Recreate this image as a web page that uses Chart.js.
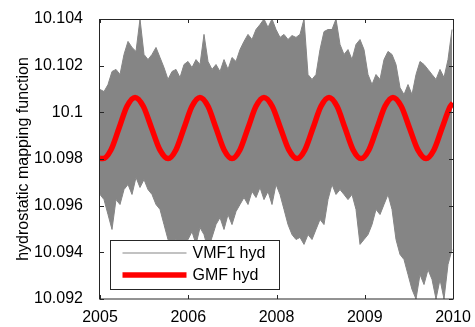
<!DOCTYPE html>
<html>
<head>
<meta charset="utf-8">
<script src="https://cdn.jsdelivr.net/npm/chart.js@4"></script>
<style>
html,body{margin:0;padding:0;background:#fff;}
canvas{display:block;}
</style>
</head>
<body>
<canvas id="c" width="475" height="327"></canvas>
<script>
// ---- data ----
const xTickValues = [0, 1, 2, 3, 4];
const xTickLabels = ['2005', '2006', '2008', '2009', '2010'];
const yTickValues = [10.092, 10.094, 10.096, 10.098, 10.1, 10.102, 10.104];
const yTickLabels = ['10.092', '10.094', '10.096', '10.098', '10.1', '10.102', '10.104'];

// VMF1 hyd: upper and lower extremes of the noisy series, sampled evenly along the time axis
const vmfUpper = [10.10098,10.10089,10.10119,10.10175,10.10184,10.10162,10.10248,10.10304,10.10278,10.10261,
  10.1040,10.10248,10.10226,10.10248,10.10278,10.10235,10.10192,10.10141,10.10175,10.10184,
  10.10149,10.10205,10.10218,10.10192,10.10226,10.10205,10.10334,10.10218,10.10184,10.10205,
  10.10175,10.10226,10.10184,10.10235,10.10218,10.10269,10.10304,10.10334,10.10312,10.10355,
  10.10376,10.1040,10.10364,10.1040,10.10355,10.10321,10.10334,10.10312,10.10329,10.10321,
  10.10334,10.1040,10.10162,10.10141,10.10162,10.10269,10.10346,10.10355,10.10355,10.1040,
  10.10291,10.10248,10.10269,10.10226,10.10291,10.10312,10.10269,10.10162,10.10119,10.10162,
  10.10141,10.10226,10.10261,10.10248,10.10205,10.10106,10.10076,10.10119,10.10076,10.10162,
  10.10218,10.10205,10.10184,10.10162,10.10141,10.10184,10.10149,10.10226,10.10355];
const vmfLower = [10.09648,10.09626,10.09562,10.09498,10.09626,10.09605,10.09669,10.09691,10.09648,10.09721,
  10.09678,10.09712,10.09669,10.09648,10.09605,10.09584,10.09519,10.09455,10.09434,10.09455,
  10.09412,10.09434,10.09455,10.09489,10.09434,10.09506,10.09476,10.09412,10.09464,10.09519,
  10.09549,10.09498,10.09562,10.09519,10.09575,10.09605,10.09635,10.09605,10.09661,10.09635,
  10.09678,10.09626,10.09661,10.09605,10.09691,10.09648,10.09584,10.09519,10.09476,10.09455,
  10.09464,10.09434,10.09476,10.09455,10.09498,10.09541,10.09519,10.09626,10.09691,10.09648,
  10.09669,10.09648,10.09626,10.09648,10.09584,10.09434,10.09455,10.09476,10.09519,10.09584,
  10.09562,10.09605,10.09648,10.09584,10.09455,10.09391,10.09369,10.09305,10.09241,10.0920,
  10.09305,10.09262,10.09326,10.09284,10.0920,10.09284,10.0920,10.09348,10.09412];
const vmfSpan = 88.25; // samples across the 4 axis units

// GMF hyd: points (troughs, peaks and between)
const gmfT = [0,0.034,0.125,0.216,0.306,0.397,0.4905,0.584,0.6775,0.771,0.8615,0.952,1.0425,1.133,
  1.224,1.3145,1.405,1.496,1.5865,1.677,1.7675,1.858,1.9515,2.045,2.1385,2.232,2.323,2.4135,2.504,2.595,
  2.686,2.7765,2.867,2.958,3.0485,3.139,3.2295,3.320,3.4135,3.507,3.6005,3.694,3.785,3.876,3.967,4.0];
const gmfV = [10.09803,10.09802,
  10.09840,10.09933,10.10026,10.10064, 10.10026,10.09933,10.09840,10.09802,
  10.09840,10.09933,10.10026,10.10064, 10.10026,10.09933,10.09840,10.09802,
  10.09840,10.09933,10.10026,10.10064, 10.10026,10.09933,10.09840,10.09802,
  10.09840,10.09933,10.10026,10.10064, 10.10026,10.09933,10.09840,10.09802,
  10.09840,10.09933,10.10026,10.10064, 10.10026,10.09933,10.09840,10.09802,
  10.09840,10.09933,10.10024,10.1004];

// ---- build datasets ----
const vmfUpperPts = vmfUpper.map((v, i) => ({x: i * 4 / vmfSpan, y: v}));
const vmfLowerPts = vmfLower.map((v, i) => ({x: i * 4 / vmfSpan, y: v}));
const gmfPoints = gmfT.map((t, i) => ({x: t, y: gmfV[i]}));

const FONT = "'Liberation Sans', Arial, sans-serif";
const AXIS_COLOR = '#262626';
const GRAY = '#858585';

const boxPlugin = {
  id: 'matlabBox',
  afterDraw(chart) {
    const {ctx, chartArea: a, scales} = chart;
    ctx.save();
    ctx.strokeStyle = AXIS_COLOR;
    ctx.lineWidth = 1;
    ctx.strokeRect(a.left - 0.5, a.top + 0.5, a.right - a.left + 1, a.bottom - a.top - 0.5);
    const tl = 4;
    ctx.beginPath();
    xTickValues.forEach(v => {
      const px = Math.round(scales.x.getPixelForValue(v)) + 0.5;
      ctx.moveTo(px, a.bottom); ctx.lineTo(px, a.bottom - tl);
      ctx.moveTo(px, a.top); ctx.lineTo(px, a.top + tl);
    });
    yTickValues.forEach(v => {
      const py = Math.round(scales.y.getPixelForValue(v)) + 0.5;
      ctx.moveTo(a.left, py); ctx.lineTo(a.left + tl, py);
      ctx.moveTo(a.right, py); ctx.lineTo(a.right - tl, py);
    });
    ctx.stroke();
    ctx.fillStyle = '#000';
    ctx.font = '16px ' + FONT;
    ctx.textAlign = 'center';
    ctx.textBaseline = 'middle';
    ctx.translate(24, (a.top + a.bottom) / 2);
    ctx.rotate(-Math.PI / 2);
    ctx.fillText('hydrostatic mapping function', 0, 0);
    ctx.restore();

    // legend
    ctx.save();
    const lx = a.left + 10.5, ly = 240.5, lw = 169, lh = 49;
    ctx.fillStyle = '#fff';
    ctx.fillRect(lx, ly, lw, lh);
    ctx.strokeStyle = AXIS_COLOR;
    ctx.lineWidth = 1;
    ctx.strokeRect(lx, ly, lw, lh);
    const ds = chart.data.datasets;
    const rows = [ds[0], ds[2]];
    rows.forEach((d, k) => {
      const yy = ly + 12.5 + k * 22;
      ctx.strokeStyle = d.borderColor;
      ctx.lineWidth = d.borderWidth;
      ctx.beginPath();
      ctx.moveTo(lx + 12, yy); ctx.lineTo(lx + 76, yy);
      ctx.stroke();
      ctx.fillStyle = '#000';
      ctx.font = '16px ' + FONT;
      ctx.textAlign = 'left';
      ctx.textBaseline = 'middle';
      ctx.fillText(d.label, lx + 82, yy + 1);
    });
    ctx.restore();
  }
};

new Chart(document.getElementById('c'), {
  type: 'line',
  data: {
    datasets: [
      {label: 'VMF1 hyd', data: vmfUpperPts, borderColor: GRAY, backgroundColor: GRAY, borderWidth: 1,
       pointRadius: 0, tension: 0, fill: 1, order: 1},
      {label: 'VMF1 hyd lower', data: vmfLowerPts, borderColor: GRAY, backgroundColor: GRAY, borderWidth: 1,
       pointRadius: 0, tension: 0, fill: false, order: 2},
      {label: 'GMF hyd', data: gmfPoints, borderColor: '#ff0000', borderWidth: 5.5,
       pointRadius: 0, cubicInterpolationMode: 'monotone', fill: false, order: 0}
    ]
  },
  options: {
    responsive: false,
    animation: false,
    devicePixelRatio: 1,
    layout: {padding: {left: 0, right: 22, top: 19, bottom: 0}},
    plugins: {legend: {display: false}, tooltip: {enabled: false}, filler: {propagate: false}},
    scales: {
      x: {
        type: 'linear', min: 0, max: 4,
        grid: {display: false}, border: {display: false},
        afterBuildTicks: s => { s.ticks = xTickValues.map(v => ({value: v})); },
        afterFit: s => { s.height = 28; },
        ticks: {
          color: '#000', font: {family: FONT, size: 16}, padding: 1, maxRotation: 0,
          callback: (v, i) => xTickLabels[i]
        }
      },
      y: {
        type: 'linear', min: 10.092, max: 10.104,
        grid: {display: false}, border: {display: false},
        afterBuildTicks: s => { s.ticks = yTickValues.map(v => ({value: v})); },
        afterFit: s => { s.width = 100; },
        ticks: {
          color: '#000', font: {family: FONT, size: 16}, padding: 9,
          callback: (v, i) => yTickLabels[i]
        }
      }
    }
  },
  plugins: [boxPlugin]
});
</script>
</body>
</html>
